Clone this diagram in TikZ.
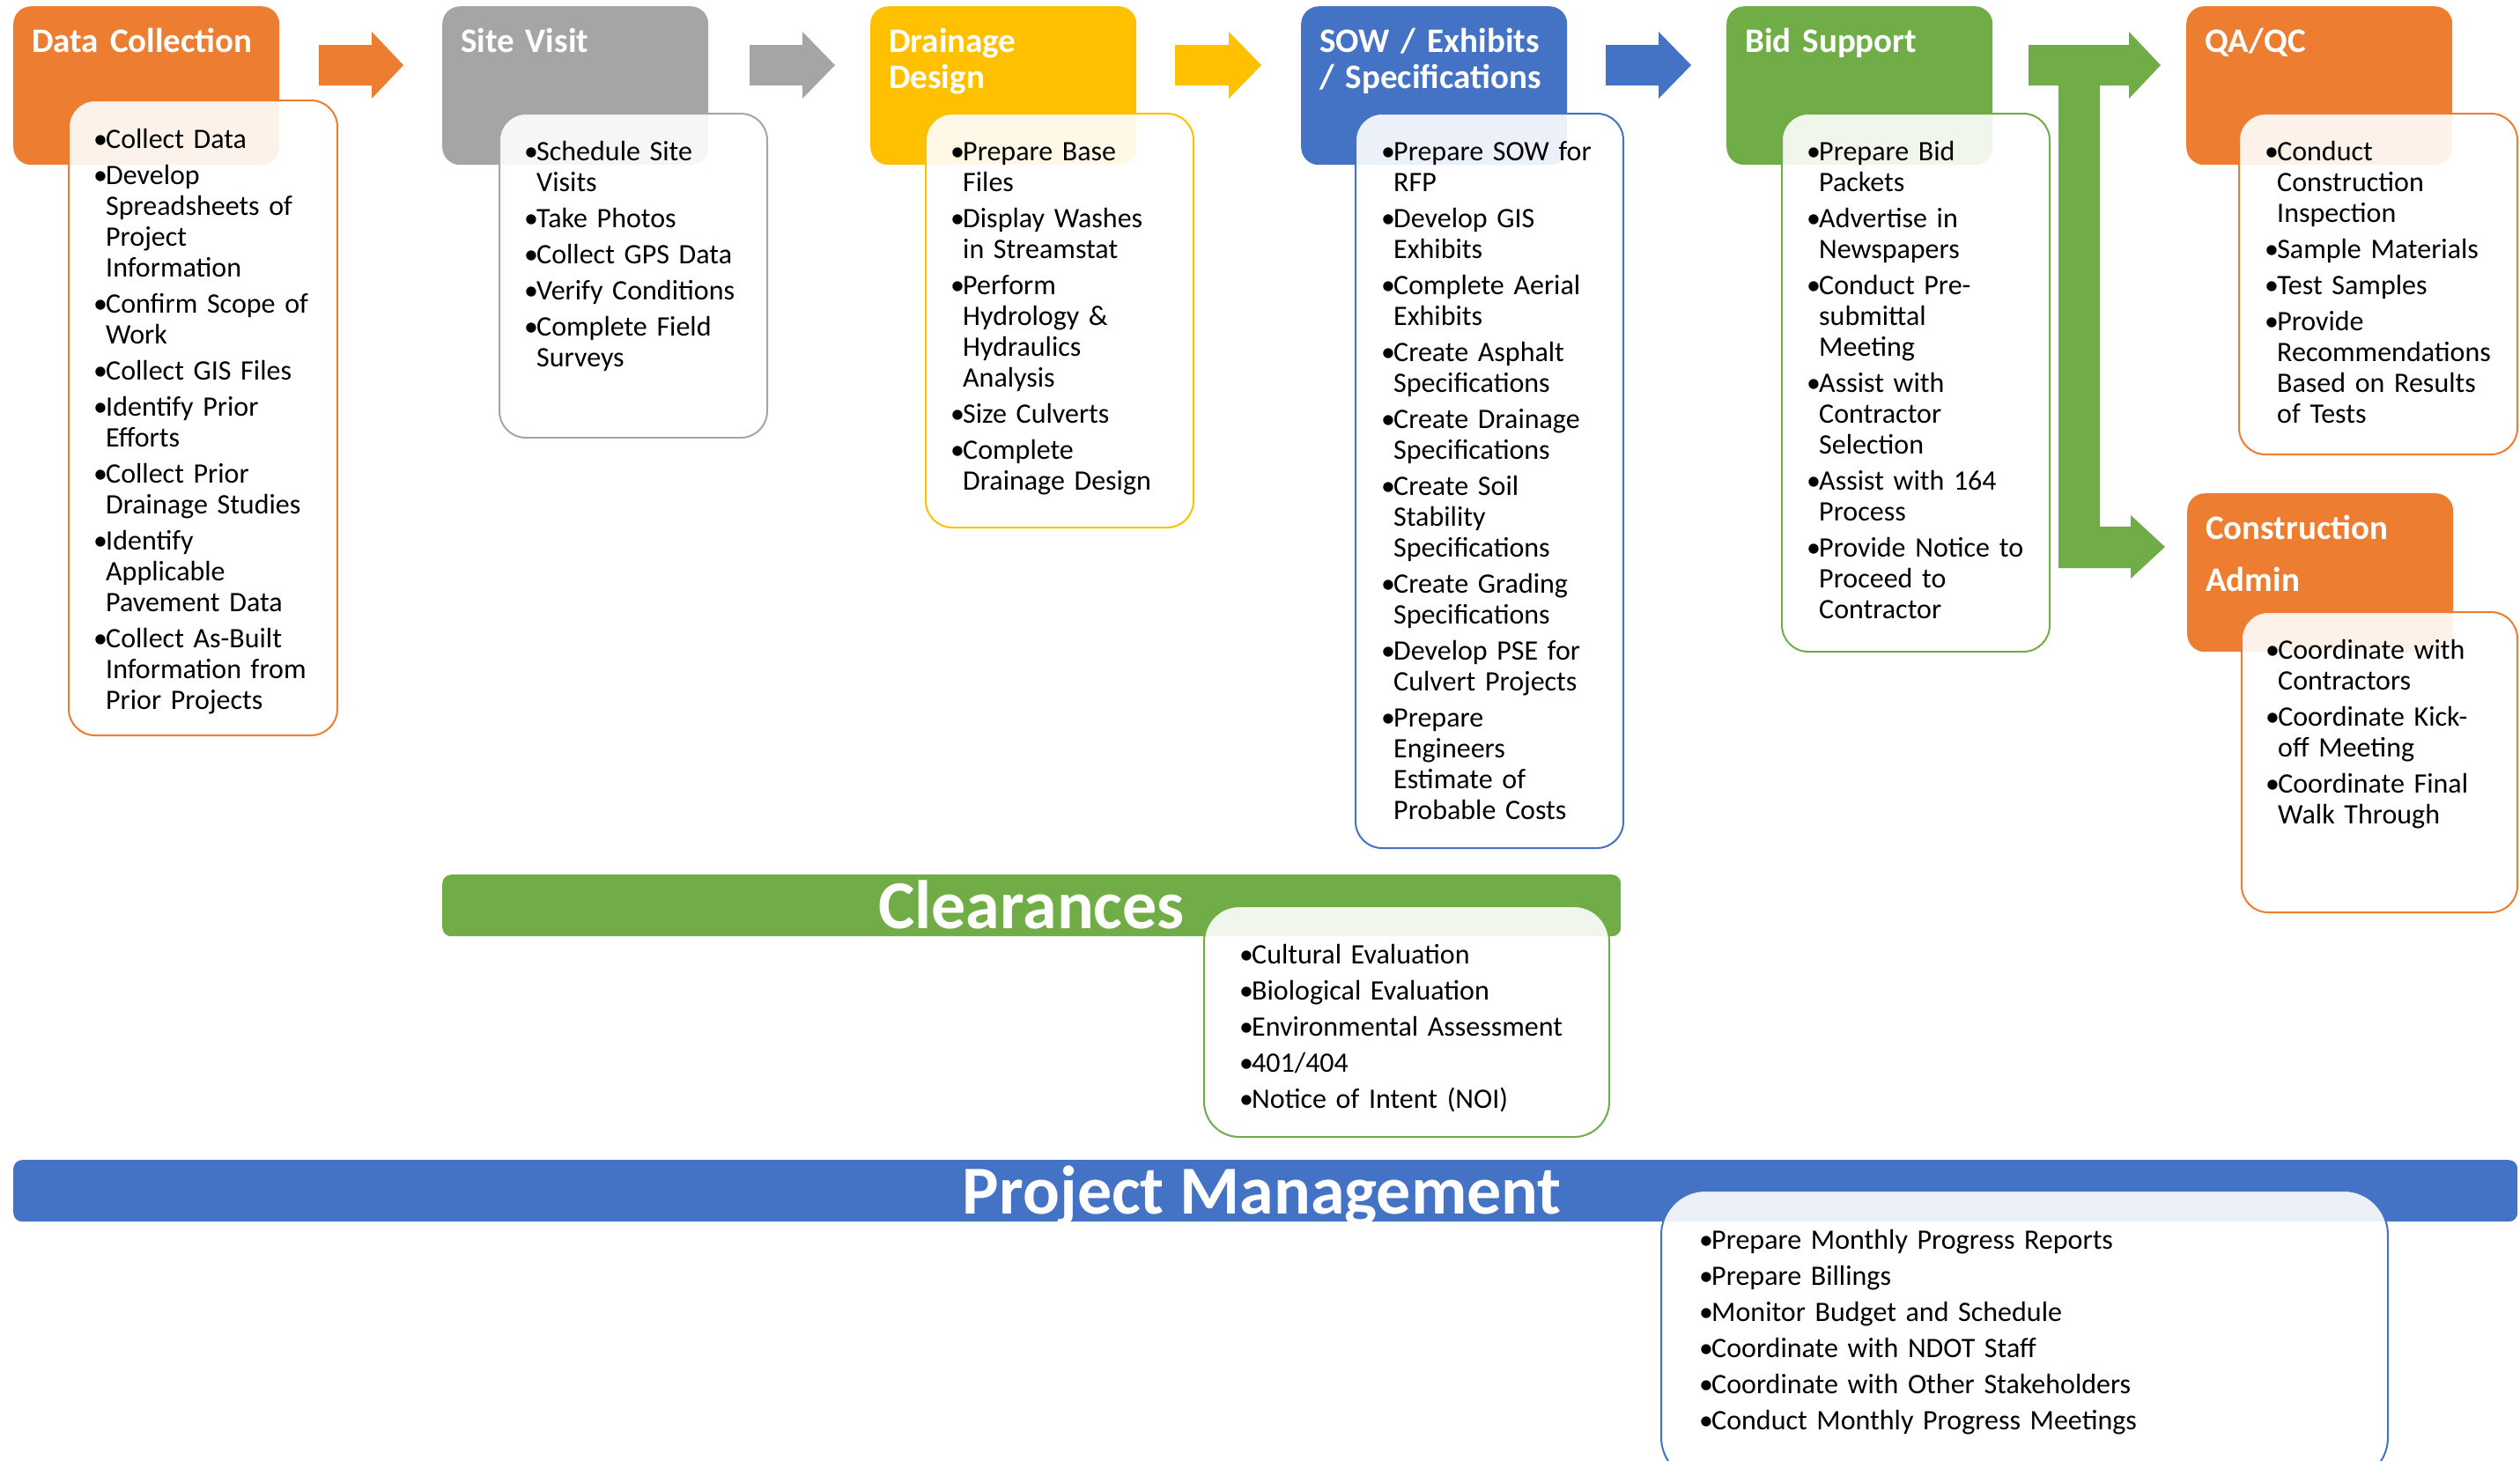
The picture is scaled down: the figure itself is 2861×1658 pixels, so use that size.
\documentclass[tikz,border=0pt]{standalone}
\usepackage{fontspec}
\setmainfont{Carlito}
\definecolor{cOr}{HTML}{ED7D31}
\definecolor{cGy}{HTML}{A5A5A5}
\definecolor{cYe}{HTML}{FFC000}
\definecolor{cBl}{HTML}{4472C4}
\definecolor{cGr}{HTML}{70AD47}
\newcommand\bi[1]{\par\noindent\hangindent=14pt\hangafter=1\makebox[14pt][l]{\strut\textbullet}#1\par}
\begin{document}
\begin{tikzpicture}[x=1pt,y=-1pt,
 hdr/.style={anchor=north west, rectangle, rounded corners=20pt, inner sep=0pt, minimum width=302pt, minimum height=180pt},
 dbox/.style={anchor=north west, rectangle, rounded corners=30pt, inner sep=0pt, fill=white, fill opacity=0.9, line width=2pt},
 ttl/.style={anchor=north west, inner sep=0pt, text width=400pt, align=left, text=white, font=\fontsize{39}{41}\selectfont\bfseries},
 dtx/.style={anchor=north west, inner sep=0pt, text width=600pt, align=left, font=\fontsize{32}{35}\selectfont\setlength\parskip{6pt}},
 bar/.style={anchor=north west, rectangle, rounded corners=10pt, inner sep=0pt, minimum height=70pt},
 bartxt/.style={anchor=base, inner sep=0pt, text=white, font=\fontsize{78}{80}\selectfont\bfseries}]
\useasboundingbox (0,0) rectangle (2861,1658);
\clip (0,0) rectangle (2861,1658);

% headers
\node[hdr, fill=cOr] (dc) at (15,7) {};
\node[hdr, fill=cGy] (sv) at (502,7) {};
\node[hdr, fill=cYe] (dd) at (988,7) {};
\node[hdr, fill=cBl] (sow) at (1477,7) {};
\node[hdr, fill=cGr] (bid) at (1960,7) {};
\node[hdr, fill=cOr] (qa) at (2482,7) {};
\node[hdr, fill=cOr] (ca) at (2483,560) {};

% block arrows
\fill[cOr] (362,51) -- (422,51) -- (422,36) -- (458,74) -- (422,112) -- (422,97) -- (362,97) -- cycle;
\fill[cGy] (851,51) -- (911,51) -- (911,36) -- (948,74) -- (911,112) -- (911,97) -- (851,97) -- cycle;
\fill[cYe] (1334,51) -- (1395,51) -- (1395,36) -- (1432,74) -- (1395,112) -- (1395,97) -- (1334,97) -- cycle;
\fill[cBl] (1823,51) -- (1883,51) -- (1883,36) -- (1920,74) -- (1883,112) -- (1883,97) -- (1823,97) -- cycle;
\fill[cGr] (2303,51) -- (2417,51) -- (2417,36) -- (2453,74) -- (2417,112) -- (2417,97) -- (2384,97)
  -- (2384,598) -- (2419,598) -- (2419,585) -- (2458,621) -- (2419,657) -- (2419,645) -- (2337,645)
  -- (2337,97) -- (2303,97) -- cycle;

% titles
\node[ttl] (dcT) at (36,30.3) {\strut Data Collection};
\node[ttl] (svT) at (523,30.3) {\strut Site Visit};
\node[ttl] (ddT) at (1009,30.3) {\strut Drainage\\Design};
\node[ttl] (sowT) at (1498,30.3) {\strut SOW / Exhibits\\/ Specifications};
\node[ttl] (bidT) at (1981,30.3) {\strut Bid Support};
\node[ttl] (qaT) at (2503,30.3) {\strut QA/QC};
\node[ttl, font=\fontsize{39}{59}\selectfont\bfseries] (caT) at (2504,570.7) {\strut Construction\\Admin};

% bars
\node[bar, fill=cGr, minimum width=1338pt] (clr) at (502,993) {};
\node[bartxt] (clrT) at (1171,1054) {Clearances};
\node[bar, fill=cBl, minimum width=2843pt] (pm) at (15,1317) {};
\node[bartxt] (pmT) at (1433,1378) {Project Management};

% detail boxes
\node[dbox, draw=cOr, minimum width=305pt, minimum height=721pt] (dcD) at (77,113) {};
\node[dbox, draw=cGy, minimum width=304pt, minimum height=368pt] (svD) at (566,128) {};
\node[dbox, draw=cYe, minimum width=304pt, minimum height=470pt] (ddD) at (1050,128) {};
\node[dbox, draw=cBl, minimum width=304pt, minimum height=834pt] (sowD) at (1538,128) {};
\node[dbox, draw=cGr, minimum width=304pt, minimum height=611pt] (bidD) at (2022,128) {};
\node[dbox, draw=cOr, minimum width=316pt, minimum height=387pt] (qaD) at (2541,128) {};
\node[dbox, draw=cOr, minimum width=313pt, minimum height=341pt] (caD) at (2544,694) {};
\node[dbox, draw=cGr, rounded corners=40pt, minimum width=460pt, minimum height=262pt] (clrD) at (1366,1028) {};
\node[dbox, draw=cBl, rounded corners=50pt, minimum width=825pt, minimum height=330pt] (pmD) at (1885,1351) {};

% detail texts
\node[dtx] (dcX) at (106,127.5) {%
\bi{Collect Data}
\bi{Develop\newline Spreadsheets of\newline Project\newline Information}
\bi{Confirm Scope of\newline Work}
\bi{Collect GIS Files}
\bi{Identify Prior\newline Efforts}
\bi{Collect Prior\newline Drainage Studies}
\bi{Identify\newline Applicable\newline Pavement Data}
\bi{Collect As-Built\newline Information from\newline Prior Projects}};

\node[dtx] (svX) at (595,141.5) {%
\bi{Schedule Site\newline Visits}
\bi{Take Photos}
\bi{Collect GPS Data}
\bi{Verify Conditions}
\bi{Complete Field\newline Surveys}};

\node[dtx] (ddX) at (1079,141.5) {%
\bi{Prepare Base\newline Files}
\bi{Display Washes\newline in Streamstat}
\bi{Perform\newline Hydrology \&\newline Hydraulics\newline Analysis}
\bi{Size Culverts}
\bi{Complete\newline Drainage Design}};

\node[dtx] (sowX) at (1568,141.5) {%
\bi{Prepare SOW for\newline RFP}
\bi{Develop GIS\newline Exhibits}
\bi{Complete Aerial\newline Exhibits}
\bi{Create Asphalt\newline Specifications}
\bi{Create Drainage\newline Specifications}
\bi{Create Soil\newline Stability\newline Specifications}
\bi{Create Grading\newline Specifications}
\bi{Develop PSE for\newline Culvert Projects}
\bi{Prepare\newline Engineers\newline Estimate of\newline Probable Costs}};

\node[dtx] (bidX) at (2051,141.5) {%
\bi{Prepare Bid\newline Packets}
\bi{Advertise in\newline Newspapers}
\bi{Conduct Pre-\newline submittal\newline Meeting}
\bi{Assist with\newline Contractor\newline Selection}
\bi{Assist with 164\newline Process}
\bi{Provide Notice to\newline Proceed to\newline Contractor}};

\node[dtx] (qaX) at (2571,141.5) {%
\bi{Conduct\newline Construction\newline Inspection}
\bi{Sample Materials}
\bi{Test Samples}
\bi{Provide\newline Recommendations\newline Based on Results\newline of Tests}};

\node[dtx] (caX) at (2572,707.5) {%
\bi{Coordinate with\newline Contractors}
\bi{Coordinate Kick-\newline off Meeting}
\bi{Coordinate Final\newline Walk Through}};

\node[dtx] (clrX) at (1407,1053.5) {%
\bi{Cultural Evaluation}
\bi{Biological Evaluation}
\bi{Environmental Assessment}
\bi{401/404}
\bi{Notice of Intent (NOI)}};

\node[dtx] (pmX) at (1929,1377.5) {%
\bi{Prepare Monthly Progress Reports}
\bi{Prepare Billings}
\bi{Monitor Budget and Schedule}
\bi{Coordinate with NDOT Staff}
\bi{Coordinate with Other Stakeholders}
\bi{Conduct Monthly Progress Meetings}};
\end{tikzpicture}
\end{document}
